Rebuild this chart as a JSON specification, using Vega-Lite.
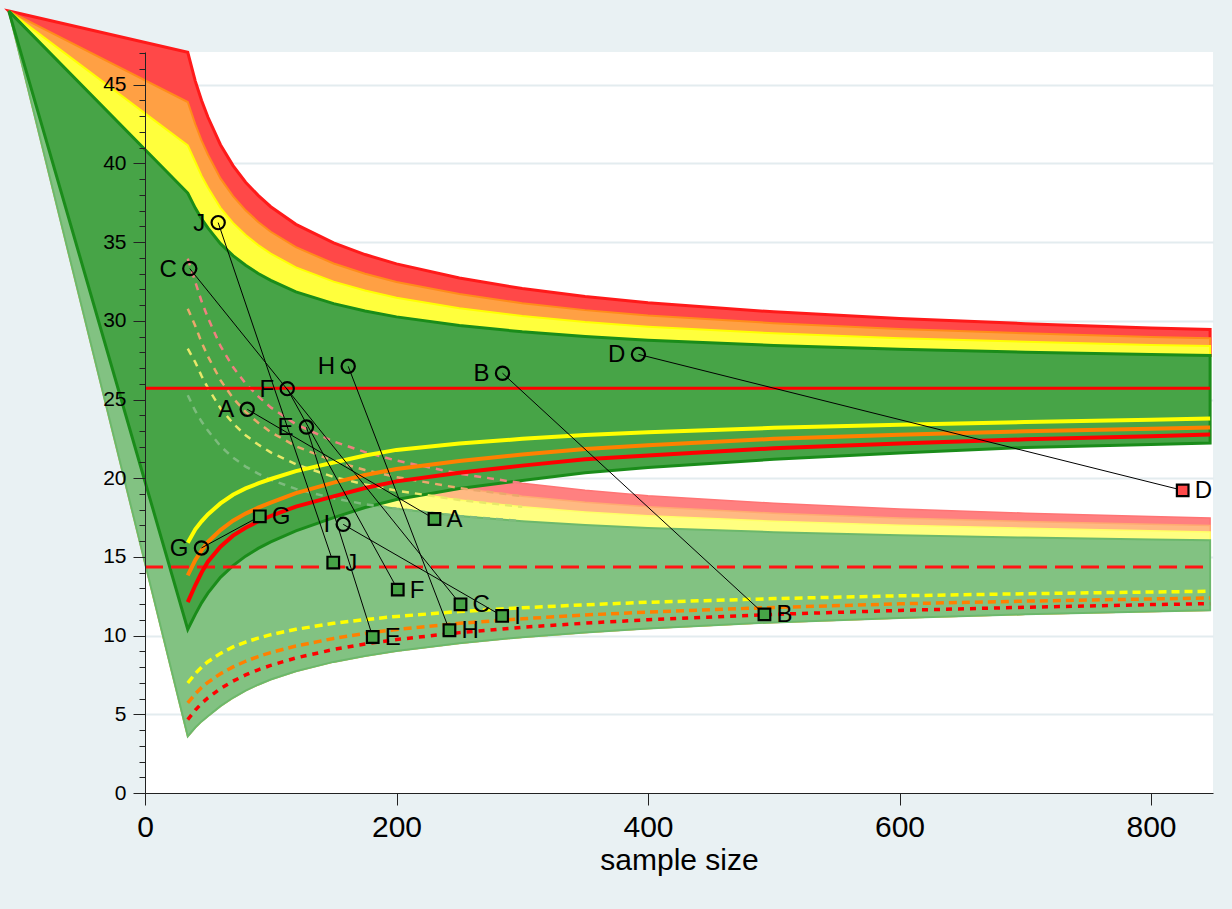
{
  "$schema": "https://vega.github.io/schema/vega-lite/v6.json",
  "width": 1068,
  "height": 741,
  "autosize": {"type": "none"},
  "padding": {"left": 145, "top": 52, "right": 19, "bottom": 116},
  "background": "#e9f1f3",
  "config": {"view": {"fill": "white", "stroke": null}, "font": "Liberation Sans"},
  "datasets": {
    "curves": [
      {"n": -108.3, "r_up": 49.68, "o_up": 49.68, "y_up": 49.68, "g_up": 49.68, "y_lo": 49.68, "o_lo": 49.68, "r_lo": 49.68, "g_lo": 49.68, "lr_up": 49.68, "lo_up": 49.68, "ly_up": 49.68, "lg_up": 49.68, "lg_lo": 49.68, "ly_lo": 49.68, "lo_lo": 49.68, "lr_lo": 49.68},
      {"n": 34, "r_up": 47.06, "o_up": 43.9, "y_up": 41.15, "g_up": 38.12, "y_lo": 15.9, "o_lo": 13.83, "r_lo": 12.13, "g_lo": 10.4, "lr_up": 33.95, "lo_up": 30.77, "ly_up": 28.23, "lg_up": 25.27, "lg_lo": 3.6, "ly_lo": 6.99, "lo_lo": 5.72, "lr_lo": 4.66},
      {"n": 40, "r_up": 45.23, "o_up": 42.49, "y_up": 40.09, "g_up": 37.16, "y_lo": 16.75, "o_lo": 14.8, "r_lo": 13.2, "g_lo": 11.35, "lr_up": 32.47, "lo_up": 29.67, "ly_up": 27.37, "lg_up": 24.27, "lg_lo": 4.16, "ly_lo": 7.59, "lo_lo": 6.3, "lr_lo": 5.27},
      {"n": 45, "r_up": 44.0, "o_up": 41.45, "y_up": 39.21, "g_up": 36.48, "y_lo": 17.26, "o_lo": 15.42, "r_lo": 14.01, "g_lo": 12.08, "lr_up": 31.24, "lo_up": 28.63, "ly_up": 26.49, "lg_up": 23.6, "lg_lo": 4.55, "ly_lo": 8.0, "lo_lo": 6.7, "lr_lo": 5.69},
      {"n": 50, "r_up": 42.95, "o_up": 40.57, "y_up": 38.47, "g_up": 35.91, "y_lo": 17.7, "o_lo": 15.95, "r_lo": 14.7, "g_lo": 12.7, "lr_up": 30.2, "lo_up": 27.75, "ly_up": 25.74, "lg_up": 23.03, "lg_lo": 4.88, "ly_lo": 8.34, "lo_lo": 7.03, "lr_lo": 6.04},
      {"n": 60, "r_up": 41.19, "o_up": 39.05, "y_up": 37.18, "g_up": 34.9, "y_lo": 18.4, "o_lo": 16.7, "r_lo": 15.65, "g_lo": 13.7, "lr_up": 28.4, "lo_up": 26.23, "ly_up": 24.45, "lg_up": 22.04, "lg_lo": 5.52, "ly_lo": 8.87, "lo_lo": 7.58, "lr_lo": 6.64},
      {"n": 70, "r_up": 39.86, "o_up": 37.92, "y_up": 36.22, "g_up": 34.14, "y_lo": 18.95, "o_lo": 17.3, "r_lo": 16.35, "g_lo": 14.45, "lr_up": 27.06, "lo_up": 25.09, "ly_up": 23.48, "lg_up": 21.31, "lg_lo": 6.05, "ly_lo": 9.28, "lo_lo": 8.01, "lr_lo": 7.11},
      {"n": 80, "r_up": 38.81, "o_up": 37.02, "y_up": 35.45, "g_up": 33.53, "y_lo": 19.35, "o_lo": 17.75, "r_lo": 16.85, "g_lo": 15.05, "lr_up": 26.02, "lo_up": 24.21, "ly_up": 22.73, "lg_up": 20.74, "lg_lo": 6.5, "ly_lo": 9.59, "lo_lo": 8.37, "lr_lo": 7.5},
      {"n": 90, "r_up": 37.97, "o_up": 36.28, "y_up": 34.81, "g_up": 33.01, "y_lo": 19.67, "o_lo": 18.13, "r_lo": 17.26, "g_lo": 15.54, "lr_up": 25.2, "lo_up": 23.52, "ly_up": 22.14, "lg_up": 20.29, "lg_lo": 6.88, "ly_lo": 9.84, "lo_lo": 8.67, "lr_lo": 7.83},
      {"n": 100, "r_up": 37.25, "o_up": 35.66, "y_up": 34.27, "g_up": 32.57, "y_lo": 19.95, "o_lo": 18.45, "r_lo": 17.6, "g_lo": 15.95, "lr_up": 24.5, "lo_up": 22.93, "ly_up": 21.64, "lg_up": 19.9, "lg_lo": 7.21, "ly_lo": 10.06, "lo_lo": 8.92, "lr_lo": 8.11},
      {"n": 120, "r_up": 36.13, "o_up": 34.68, "y_up": 33.4, "g_up": 31.84, "y_lo": 20.45, "o_lo": 19.05, "r_lo": 18.2, "g_lo": 16.65, "lr_up": 23.43, "lo_up": 22.03, "ly_up": 20.88, "lg_up": 19.32, "lg_lo": 7.74, "ly_lo": 10.4, "lo_lo": 9.34, "lr_lo": 8.58},
      {"n": 150, "r_up": 34.95, "o_up": 33.64, "y_up": 32.49, "g_up": 31.09, "y_lo": 21.0, "o_lo": 19.72, "r_lo": 18.85, "g_lo": 17.5, "lr_up": 22.33, "lo_up": 21.09, "ly_up": 20.08, "lg_up": 18.72, "lg_lo": 8.33, "ly_lo": 10.78, "lo_lo": 9.82, "lr_lo": 9.12},
      {"n": 175, "r_up": 34.21, "o_up": 32.99, "y_up": 31.93, "g_up": 30.63, "y_lo": 21.44, "o_lo": 20.2, "r_lo": 19.38, "g_lo": 18.14, "lr_up": 21.66, "lo_up": 20.52, "ly_up": 19.6, "lg_up": 18.35, "lg_lo": 8.71, "ly_lo": 11.02, "lo_lo": 10.14, "lr_lo": 9.47},
      {"n": 200, "r_up": 33.62, "o_up": 32.47, "y_up": 31.47, "g_up": 30.25, "y_lo": 21.8, "o_lo": 20.58, "r_lo": 19.8, "g_lo": 18.65, "lr_up": 21.12, "lo_up": 20.07, "ly_up": 19.21, "lg_up": 18.06, "lg_lo": 9.02, "ly_lo": 11.22, "lo_lo": 10.39, "lr_lo": 9.75},
      {"n": 250, "r_up": 32.72, "o_up": 31.7, "y_up": 30.8, "g_up": 29.7, "y_lo": 22.2, "o_lo": 21.1, "r_lo": 20.35, "g_lo": 19.35, "lr_up": 20.29, "lo_up": 19.37, "ly_up": 18.62, "lg_up": 17.6, "lg_lo": 9.52, "ly_lo": 11.53, "lo_lo": 10.78, "lr_lo": 10.19},
      {"n": 300, "r_up": 32.05, "o_up": 31.12, "y_up": 30.3, "g_up": 29.3, "y_lo": 22.5, "o_lo": 21.5, "r_lo": 20.8, "g_lo": 19.85, "lr_up": 19.68, "lo_up": 18.86, "ly_up": 18.18, "lg_up": 17.27, "lg_lo": 9.9, "ly_lo": 11.77, "lo_lo": 11.07, "lr_lo": 10.53},
      {"n": 350, "r_up": 31.54, "o_up": 30.68, "y_up": 29.92, "g_up": 29.0, "y_lo": 22.75, "o_lo": 21.85, "r_lo": 21.2, "g_lo": 20.35, "lr_up": 19.23, "lo_up": 18.47, "ly_up": 17.86, "lg_up": 17.02, "lg_lo": 10.2, "ly_lo": 11.96, "lo_lo": 11.31, "lr_lo": 10.79},
      {"n": 400, "r_up": 31.15, "o_up": 30.34, "y_up": 29.63, "g_up": 28.77, "y_lo": 22.92, "o_lo": 22.1, "r_lo": 21.45, "g_lo": 20.68, "lr_up": 18.89, "lo_up": 18.19, "ly_up": 17.61, "lg_up": 16.84, "lg_lo": 10.45, "ly_lo": 12.12, "lo_lo": 11.5, "lr_lo": 11.01},
      {"n": 500, "r_up": 30.57, "o_up": 29.85, "y_up": 29.21, "g_up": 28.43, "y_lo": 23.2, "o_lo": 22.5, "r_lo": 21.9, "g_lo": 21.2, "lr_up": 18.41, "lo_up": 17.78, "ly_up": 17.27, "lg_up": 16.57, "lg_lo": 10.84, "ly_lo": 12.35, "lo_lo": 11.79, "lr_lo": 11.35},
      {"n": 600, "r_up": 30.15, "o_up": 29.48, "y_up": 28.9, "g_up": 28.19, "y_lo": 23.4, "o_lo": 22.76, "r_lo": 22.2, "g_lo": 21.6, "lr_up": 18.05, "lo_up": 17.48, "ly_up": 17.01, "lg_up": 16.38, "lg_lo": 11.12, "ly_lo": 12.53, "lo_lo": 12.02, "lr_lo": 11.6},
      {"n": 700, "r_up": 29.82, "o_up": 29.21, "y_up": 28.67, "g_up": 28.01, "y_lo": 23.57, "o_lo": 22.98, "r_lo": 22.47, "g_lo": 21.95, "lr_up": 17.78, "lo_up": 17.25, "ly_up": 16.82, "lg_up": 16.23, "lg_lo": 11.35, "ly_lo": 12.66, "lo_lo": 12.19, "lr_lo": 11.8},
      {"n": 800, "r_up": 29.55, "o_up": 28.97, "y_up": 28.47, "g_up": 27.86, "y_lo": 23.72, "o_lo": 23.15, "r_lo": 22.67, "g_lo": 22.15, "lr_up": 17.56, "lo_up": 17.07, "ly_up": 16.66, "lg_up": 16.11, "lg_lo": 11.53, "ly_lo": 12.77, "lo_lo": 12.33, "lr_lo": 11.97},
      {"n": 847, "r_up": 29.45, "o_up": 28.89, "y_up": 28.4, "g_up": 27.8, "y_lo": 23.79, "o_lo": 23.23, "r_lo": 22.77, "g_lo": 22.24, "lr_up": 17.47, "lo_up": 16.99, "ly_up": 16.59, "lg_up": 16.06, "lg_lo": 11.61, "ly_lo": 12.82, "lo_lo": 12.39, "lr_lo": 12.03}
    ],
    "pts": [
      {"id": "A", "n1": 81.3, "v1": 24.38, "n2": 230.2, "v2": 17.41, "zone": "green"},
      {"id": "B", "n1": 284.3, "v1": 26.67, "n2": 492.6, "v2": 11.35, "zone": "green"},
      {"id": "C", "n1": 35.6, "v1": 33.32, "n2": 250.9, "v2": 11.99, "zone": "green"},
      {"id": "D", "n1": 392.4, "v1": 27.87, "n2": 825.2, "v2": 19.23, "zone": "red"},
      {"id": "E", "n1": 128.4, "v1": 23.25, "n2": 181.1, "v2": 9.91, "zone": "green"},
      {"id": "F", "n1": 113.1, "v1": 25.69, "n2": 201.0, "v2": 12.92, "zone": "green"},
      {"id": "G", "n1": 44.9, "v1": 15.57, "n2": 91.3, "v2": 17.58, "zone": "green"},
      {"id": "H", "n1": 161.6, "v1": 27.11, "n2": 242.1, "v2": 10.34, "zone": "green"},
      {"id": "I", "n1": 157.6, "v1": 17.07, "n2": 284.0, "v2": 11.25, "zone": "green"},
      {"id": "J", "n1": 58.2, "v1": 36.24, "n2": 149.7, "v2": 14.64, "zone": "green"}
    ]
  },
  "resolve": {"axis": {"x": "independent", "y": "independent"}},
  "layer": [
    {
      "data": {"name": "curves"},
      "mark": {"type": "area", "fill": "#ff8080", "stroke": "#ff7474", "strokeWidth": 1.5},
      "encoding": {
        "x": {"field": "n", "type": "quantitative", "scale": {"domain": [0, 849.3], "nice": false, "zero": false}, "axis": null},
        "y": {"field": "lr_up", "type": "quantitative", "scale": {"domain": [0, 47.08], "nice": false, "zero": false},
              "axis": {"orient": "left", "values": [5, 10, 15, 20, 25, 30, 35, 40, 45], "grid": true, "gridColor": "#e3ecef", "gridWidth": 2, "domain": false, "ticks": false, "labels": false, "title": null, "zindex": 0}},
        "y2": {"field": "lg_lo"}
      }
    },
    {
      "data": {"name": "curves"},
      "mark": {"type": "area", "fill": "#ffb982", "stroke": "#ffaa70", "strokeWidth": 1.5},
      "encoding": {
        "x": {"field": "n", "type": "quantitative", "scale": {"domain": [0, 849.3], "nice": false, "zero": false}, "axis": null},
        "y": {"field": "lo_up", "type": "quantitative", "scale": {"domain": [0, 47.08], "nice": false, "zero": false}, "axis": null},
        "y2": {"field": "lg_lo"}
      }
    },
    {
      "data": {"name": "curves"},
      "mark": {"type": "area", "fill": "#ffff80", "stroke": "#ffff66", "strokeWidth": 1.5},
      "encoding": {
        "x": {"field": "n", "type": "quantitative", "scale": {"domain": [0, 849.3], "nice": false, "zero": false}, "axis": null},
        "y": {"field": "ly_up", "type": "quantitative", "scale": {"domain": [0, 47.08], "nice": false, "zero": false}, "axis": null},
        "y2": {"field": "lg_lo"}
      }
    },
    {
      "data": {"name": "curves"},
      "mark": {"type": "area", "fill": "#82c282", "stroke": "#6cb86c", "strokeWidth": 2},
      "encoding": {
        "x": {"field": "n", "type": "quantitative", "scale": {"domain": [0, 849.3], "nice": false, "zero": false}, "axis": null},
        "y": {"field": "lg_up", "type": "quantitative", "scale": {"domain": [0, 47.08], "nice": false, "zero": false}, "axis": null},
        "y2": {"field": "lg_lo"}
      }
    },
    {
      "data": {"name": "curves"},
      "mark": {"type": "area", "fill": "#ff4848", "stroke": "#ff1a1a", "strokeWidth": 3},
      "encoding": {
        "x": {"field": "n", "type": "quantitative", "scale": {"domain": [0, 849.3], "nice": false, "zero": false}, "axis": null},
        "y": {"field": "r_up", "type": "quantitative", "scale": {"domain": [0, 47.08], "nice": false, "zero": false}, "axis": null},
        "y2": {"field": "g_up"}
      }
    },
    {
      "data": {"name": "curves"},
      "mark": {"type": "area", "fill": "#ffa044", "stroke": "#ff8c1a", "strokeWidth": 2},
      "encoding": {
        "x": {"field": "n", "type": "quantitative", "scale": {"domain": [0, 849.3], "nice": false, "zero": false}, "axis": null},
        "y": {"field": "o_up", "type": "quantitative", "scale": {"domain": [0, 47.08], "nice": false, "zero": false}, "axis": null},
        "y2": {"field": "g_up"}
      }
    },
    {
      "data": {"name": "curves"},
      "mark": {"type": "area", "fill": "#ffff3c", "stroke": "#ffff00", "strokeWidth": 2},
      "encoding": {
        "x": {"field": "n", "type": "quantitative", "scale": {"domain": [0, 849.3], "nice": false, "zero": false}, "axis": null},
        "y": {"field": "y_up", "type": "quantitative", "scale": {"domain": [0, 47.08], "nice": false, "zero": false}, "axis": null},
        "y2": {"field": "g_up"}
      }
    },
    {
      "data": {"name": "curves"},
      "mark": {"type": "area", "fill": "#47a447", "stroke": "#1a8c1a", "strokeWidth": 3},
      "encoding": {
        "x": {"field": "n", "type": "quantitative", "scale": {"domain": [0, 849.3], "nice": false, "zero": false}, "axis": null},
        "y": {"field": "g_up", "type": "quantitative", "scale": {"domain": [0, 47.08], "nice": false, "zero": false}, "axis": null},
        "y2": {"field": "g_lo"}
      }
    },
    {
      "data": {"name": "curves"},
      "transform": [{"filter": "datum.n >= 34 && datum.n <= 300"}],
      "mark": {"type": "line", "stroke": "#f08080", "strokeWidth": 2.5, "strokeDash": [7, 6]},
      "encoding": {
        "x": {"field": "n", "type": "quantitative", "scale": {"domain": [0, 849.3], "nice": false, "zero": false}, "axis": null},
        "y": {"field": "lr_up", "type": "quantitative", "scale": {"domain": [0, 47.08], "nice": false, "zero": false}, "axis": null}
      }
    },
    {
      "data": {"name": "curves"},
      "transform": [{"filter": "datum.n >= 34 && datum.n <= 300"}],
      "mark": {"type": "line", "stroke": "#eaa86c", "strokeWidth": 2.5, "strokeDash": [7, 6]},
      "encoding": {
        "x": {"field": "n", "type": "quantitative", "scale": {"domain": [0, 849.3], "nice": false, "zero": false}, "axis": null},
        "y": {"field": "lo_up", "type": "quantitative", "scale": {"domain": [0, 47.08], "nice": false, "zero": false}, "axis": null}
      }
    },
    {
      "data": {"name": "curves"},
      "transform": [{"filter": "datum.n >= 34 && datum.n <= 300"}],
      "mark": {"type": "line", "stroke": "#e8e86a", "strokeWidth": 2.5, "strokeDash": [7, 6]},
      "encoding": {
        "x": {"field": "n", "type": "quantitative", "scale": {"domain": [0, 849.3], "nice": false, "zero": false}, "axis": null},
        "y": {"field": "ly_up", "type": "quantitative", "scale": {"domain": [0, 47.08], "nice": false, "zero": false}, "axis": null}
      }
    },
    {
      "data": {"name": "curves"},
      "transform": [{"filter": "datum.n >= 34 && datum.n <= 300"}],
      "mark": {"type": "line", "stroke": "#7dbb7d", "strokeWidth": 2.5, "strokeDash": [7, 6]},
      "encoding": {
        "x": {"field": "n", "type": "quantitative", "scale": {"domain": [0, 849.3], "nice": false, "zero": false}, "axis": null},
        "y": {"field": "lg_up", "type": "quantitative", "scale": {"domain": [0, 47.08], "nice": false, "zero": false}, "axis": null}
      }
    },
    {
      "data": {"values": [{"n0": 0, "n1": 847, "v": 25.72}]},
      "mark": {"type": "rule", "stroke": "#ff0000", "strokeWidth": 3},
      "encoding": {
        "x": {"field": "n0", "type": "quantitative", "scale": {"domain": [0, 849.3], "nice": false, "zero": false}, "axis": null},
        "x2": {"field": "n1"},
        "y": {"field": "v", "type": "quantitative", "scale": {"domain": [0, 47.08], "nice": false, "zero": false}, "axis": null}
      }
    },
    {
      "data": {"values": [{"n0": 0, "n1": 847, "v": 14.36}]},
      "mark": {"type": "rule", "stroke": "#ff1414", "strokeWidth": 3, "strokeDash": [18, 8]},
      "encoding": {
        "x": {"field": "n0", "type": "quantitative", "scale": {"domain": [0, 849.3], "nice": false, "zero": false}, "axis": null},
        "x2": {"field": "n1"},
        "y": {"field": "v", "type": "quantitative", "scale": {"domain": [0, 47.08], "nice": false, "zero": false}, "axis": null}
      }
    },
    {
      "data": {"name": "curves"},
      "transform": [{"filter": "datum.n >= 34"}],
      "mark": {"type": "line", "stroke": "#ffff00", "strokeWidth": 4},
      "encoding": {
        "x": {"field": "n", "type": "quantitative", "scale": {"domain": [0, 849.3], "nice": false, "zero": false}, "axis": null},
        "y": {"field": "y_lo", "type": "quantitative", "scale": {"domain": [0, 47.08], "nice": false, "zero": false}, "axis": null}
      }
    },
    {
      "data": {"name": "curves"},
      "transform": [{"filter": "datum.n >= 34"}],
      "mark": {"type": "line", "stroke": "#ff8000", "strokeWidth": 4},
      "encoding": {
        "x": {"field": "n", "type": "quantitative", "scale": {"domain": [0, 849.3], "nice": false, "zero": false}, "axis": null},
        "y": {"field": "o_lo", "type": "quantitative", "scale": {"domain": [0, 47.08], "nice": false, "zero": false}, "axis": null}
      }
    },
    {
      "data": {"name": "curves"},
      "transform": [{"filter": "datum.n >= 34"}],
      "mark": {"type": "line", "stroke": "#ff0000", "strokeWidth": 4},
      "encoding": {
        "x": {"field": "n", "type": "quantitative", "scale": {"domain": [0, 849.3], "nice": false, "zero": false}, "axis": null},
        "y": {"field": "r_lo", "type": "quantitative", "scale": {"domain": [0, 47.08], "nice": false, "zero": false}, "axis": null}
      }
    },
    {
      "data": {"name": "curves"},
      "transform": [{"filter": "datum.n >= 34"}],
      "mark": {"type": "line", "stroke": "#ffff00", "strokeWidth": 3.5, "strokeDash": [8, 5]},
      "encoding": {
        "x": {"field": "n", "type": "quantitative", "scale": {"domain": [0, 849.3], "nice": false, "zero": false}, "axis": null},
        "y": {"field": "ly_lo", "type": "quantitative", "scale": {"domain": [0, 47.08], "nice": false, "zero": false}, "axis": null}
      }
    },
    {
      "data": {"name": "curves"},
      "transform": [{"filter": "datum.n >= 34"}],
      "mark": {"type": "line", "stroke": "#ff8000", "strokeWidth": 3.5, "strokeDash": [8, 5]},
      "encoding": {
        "x": {"field": "n", "type": "quantitative", "scale": {"domain": [0, 849.3], "nice": false, "zero": false}, "axis": null},
        "y": {"field": "lo_lo", "type": "quantitative", "scale": {"domain": [0, 47.08], "nice": false, "zero": false}, "axis": null}
      }
    },
    {
      "data": {"name": "curves"},
      "transform": [{"filter": "datum.n >= 34"}],
      "mark": {"type": "line", "stroke": "#ff0000", "strokeWidth": 3.5, "strokeDash": [6, 6]},
      "encoding": {
        "x": {"field": "n", "type": "quantitative", "scale": {"domain": [0, 849.3], "nice": false, "zero": false}, "axis": null},
        "y": {"field": "lr_lo", "type": "quantitative", "scale": {"domain": [0, 47.08], "nice": false, "zero": false}, "axis": null}
      }
    },
    {
      "data": {"name": "pts"},
      "mark": {"type": "rule", "stroke": "#000000", "strokeWidth": 1},
      "encoding": {
        "x": {"field": "n1", "type": "quantitative", "scale": {"domain": [0, 849.3], "nice": false, "zero": false}, "axis": null},
        "x2": {"field": "n2"},
        "y": {"field": "v1", "type": "quantitative", "scale": {"domain": [0, 47.08], "nice": false, "zero": false}, "axis": null},
        "y2": {"field": "v2"}
      }
    },
    {
      "data": {"name": "pts"},
      "mark": {"type": "point", "shape": "circle", "filled": false, "stroke": "#000000", "strokeWidth": 2.2, "size": 175, "opacity": 1},
      "encoding": {
        "x": {"field": "n1", "type": "quantitative", "scale": {"domain": [0, 849.3], "nice": false, "zero": false},
              "axis": {"orient": "bottom", "values": [0, 200, 400, 600, 800], "tickSize": 12, "tickColor": "#222222", "tickWidth": 1, "domainColor": "#222222", "domainWidth": 1, "labelFontSize": 30, "labelColor": "#000000", "labelPadding": 7, "labelFlush": false, "labelOverlap": false, "grid": false, "title": "sample size", "titleFontSize": 30, "titleFontWeight": "normal", "titleColor": "#000000", "titlePadding": 3, "zindex": 1}},
        "y": {"field": "v1", "type": "quantitative", "scale": {"domain": [0, 47.08], "nice": false, "zero": false}, "axis": null}
      }
    },
    {
      "data": {"name": "pts"},
      "mark": {"type": "point", "shape": "square", "filled": true, "stroke": "#000000", "strokeWidth": 2.2, "size": 135, "opacity": 1},
      "encoding": {
        "x": {"field": "n2", "type": "quantitative", "scale": {"domain": [0, 849.3], "nice": false, "zero": false}, "axis": null},
        "y": {"field": "v2", "type": "quantitative", "scale": {"domain": [0, 47.08], "nice": false, "zero": false},
              "axis": {"orient": "left", "values": [0, 5, 10, 15, 20, 25, 30, 35, 40, 45], "tickSize": 12, "tickColor": "#222222", "tickWidth": 1, "domainColor": "#222222", "domainWidth": 1, "labelFontSize": 21, "labelColor": "#000000", "labelPadding": 7, "labelFlush": false, "labelOverlap": false, "grid": false, "title": null, "zindex": 1}},
        "fill": {"field": "zone", "type": "nominal", "scale": {"domain": ["green", "red"], "range": ["#47a447", "#ff4a4a"]}, "legend": null}
      }
    },
    {
      "data": {"name": "pts"},
      "mark": {"type": "text", "align": "right", "baseline": "middle", "dx": -13, "dy": 1, "fontSize": 24, "color": "#000000"},
      "encoding": {
        "x": {"field": "n1", "type": "quantitative", "scale": {"domain": [0, 849.3], "nice": false, "zero": false}, "axis": null},
        "y": {"field": "v1", "type": "quantitative", "scale": {"domain": [0, 47.08], "nice": false, "zero": false},
              "axis": {"orient": "left", "values": [0,1,2,3,4,5,6,7,8,9,10,11,12,13,14,15,16,17,18,19,20,21,22,23,24,25,26,27,28,29,30,31,32,33,34,35,36,37,38,39,40,41,42,43,44,45,46,47], "tickSize": 6, "tickColor": "#222222", "tickWidth": 1, "domain": false, "labels": false, "grid": false, "title": null, "zindex": 1}},
        "text": {"field": "id"}
      }
    },
    {
      "data": {"name": "pts"},
      "mark": {"type": "text", "align": "left", "baseline": "middle", "dx": 12, "dy": 1, "fontSize": 24, "color": "#000000"},
      "encoding": {
        "x": {"field": "n2", "type": "quantitative", "scale": {"domain": [0, 849.3], "nice": false, "zero": false}, "axis": null},
        "y": {"field": "v2", "type": "quantitative", "scale": {"domain": [0, 47.08], "nice": false, "zero": false}, "axis": null},
        "text": {"field": "id"}
      }
    }
  ]
}
